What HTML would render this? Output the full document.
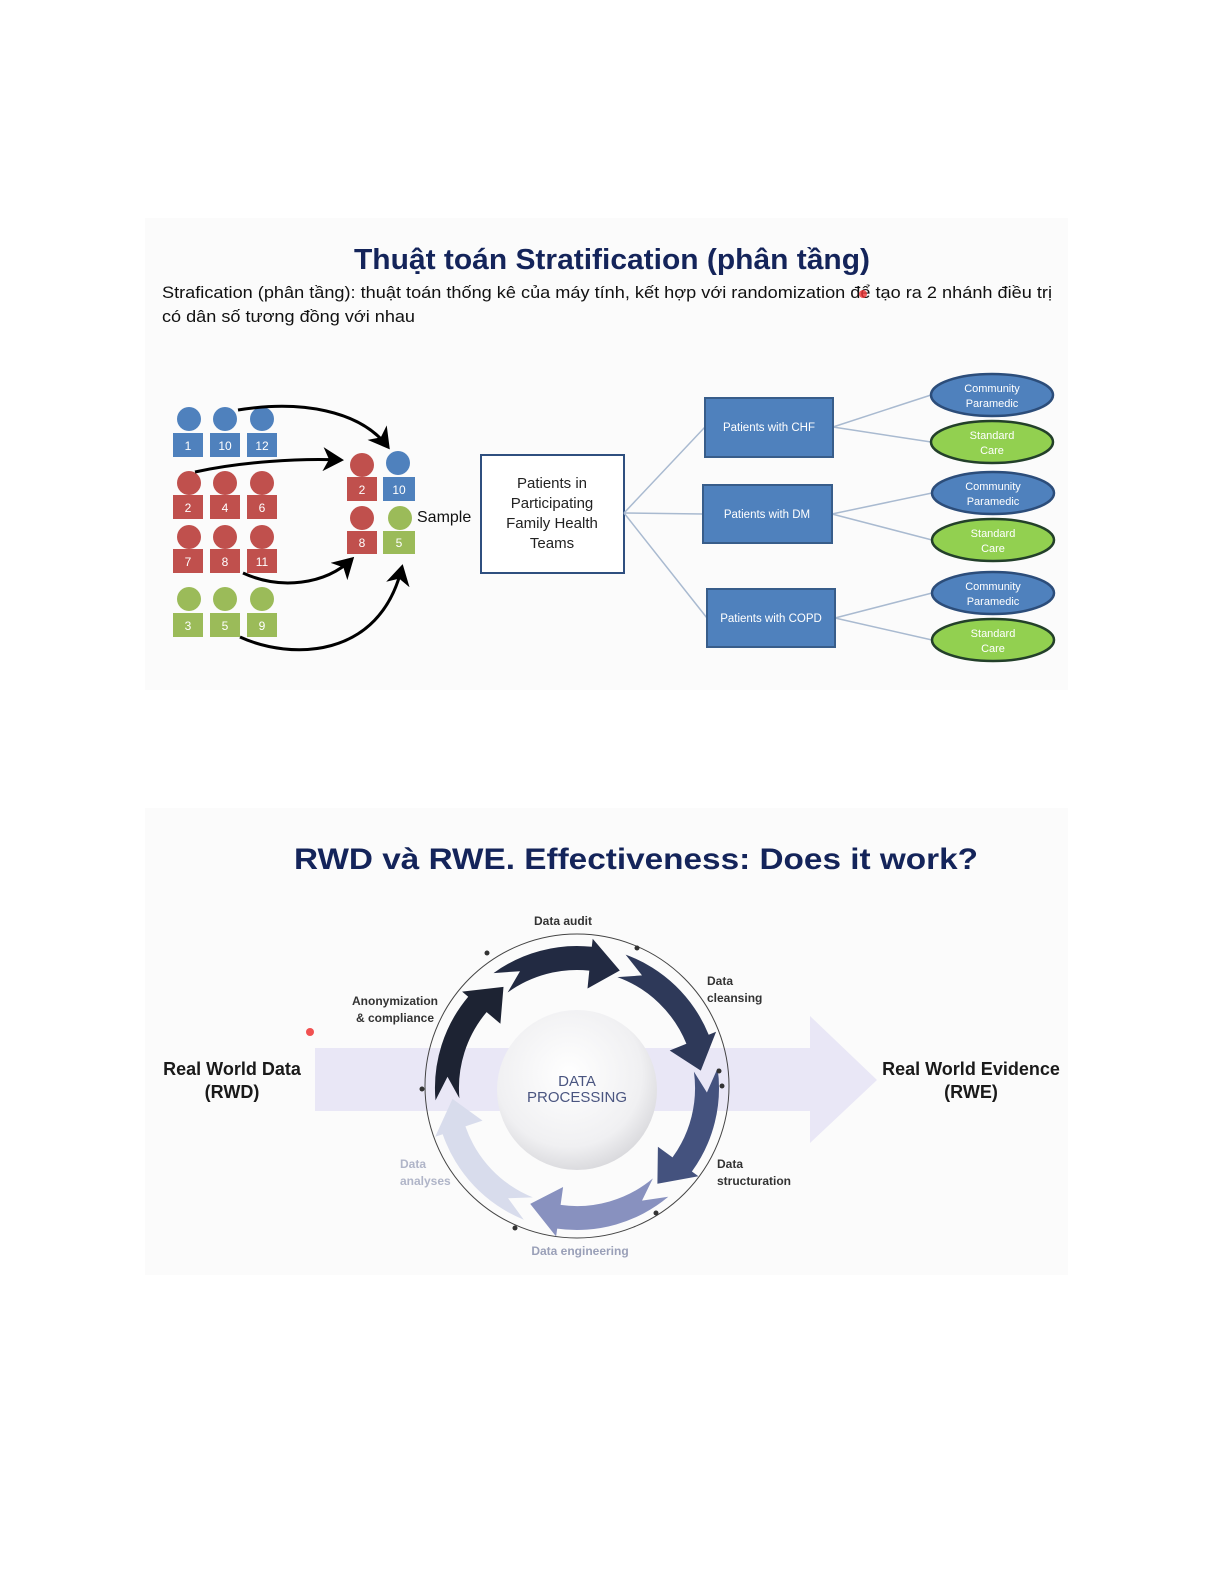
<!DOCTYPE html>
<html><head><meta charset="utf-8"><style>
html,body{margin:0;padding:0;background:#fff;}
svg{display:block;}
</style></head><body>
<svg width="1225" height="1585" viewBox="0 0 1225 1585" xmlns="http://www.w3.org/2000/svg">
<defs>
<marker id="ah" markerWidth="8" markerHeight="8" refX="6" refY="4" orient="auto" markerUnits="strokeWidth">
<path d="M0,0 L7,4 L0,8 L2,4 Z" fill="#000"/>
</marker>
<radialGradient id="dg" cx="0.45" cy="0.4" r="0.65">
<stop offset="0" stop-color="#ffffff"/><stop offset="0.7" stop-color="#f0f0f2"/><stop offset="1" stop-color="#d4d4d8"/>
</radialGradient>
</defs>
<rect x="0" y="0" width="1225" height="1585" fill="#fff"/>
<rect x="145" y="218" width="923" height="472" fill="#fbfbfb"/>
<rect x="145" y="808" width="923" height="467" fill="#fbfbfb"/>

<!-- Slide 1 -->
<text x="354" y="269" font-family="Liberation Sans, sans-serif" font-weight="bold" font-size="29" fill="#14245a" textLength="516" lengthAdjust="spacingAndGlyphs">Thuật toán Stratification (phân tầng)</text>
<text x="162" y="298" font-family="Liberation Sans, sans-serif" font-size="17" fill="#111" textLength="890" lengthAdjust="spacingAndGlyphs">Strafication (phân tầng): thuật toán thống kê của máy tính, kết hợp với randomization để tạo ra 2 nhánh điều trị</text>
<text x="162" y="322" font-family="Liberation Sans, sans-serif" font-size="17" fill="#111" textLength="253" lengthAdjust="spacingAndGlyphs">có dân số tương đồng với nhau</text>
<circle cx="863" cy="294" r="4" fill="#e33" opacity="0.8"/>

<g font-family="Liberation Sans, sans-serif" font-size="12" fill="#fff" text-anchor="middle">
<!-- blue row -->
<g fill="#4f81bd"><circle cx="189" cy="419" r="12"/><circle cx="225" cy="419" r="12"/><circle cx="262" cy="419" r="12"/>
<rect x="173" y="433" width="30" height="24"/><rect x="210" y="433" width="30" height="24"/><rect x="247" y="433" width="30" height="24"/></g>
<text x="188" y="450">1</text><text x="225" y="450">10</text><text x="262" y="450">12</text>
<!-- red rows -->
<g fill="#c0504d"><circle cx="189" cy="483" r="12"/><circle cx="225" cy="483" r="12"/><circle cx="262" cy="483" r="12"/>
<rect x="173" y="495" width="30" height="24"/><rect x="210" y="495" width="30" height="24"/><rect x="247" y="495" width="30" height="24"/>
<circle cx="189" cy="537" r="12"/><circle cx="225" cy="537" r="12"/><circle cx="262" cy="537" r="12"/>
<rect x="173" y="549" width="30" height="24"/><rect x="210" y="549" width="30" height="24"/><rect x="247" y="549" width="30" height="24"/></g>
<text x="188" y="512">2</text><text x="225" y="512">4</text><text x="262" y="512">6</text>
<text x="188" y="566">7</text><text x="225" y="566">8</text><text x="262" y="566">11</text>
<!-- green row -->
<g fill="#9bbb59"><circle cx="189" cy="599" r="12"/><circle cx="225" cy="599" r="12"/><circle cx="262" cy="599" r="12"/>
<rect x="173" y="613" width="30" height="24"/><rect x="210" y="613" width="30" height="24"/><rect x="247" y="613" width="30" height="24"/></g>
<text x="188" y="630">3</text><text x="225" y="630">5</text><text x="262" y="630">9</text>
<!-- sample -->
<circle cx="362" cy="465" r="12" fill="#c0504d"/><rect x="347" y="477" width="30" height="24" fill="#c0504d"/>
<circle cx="398" cy="463" r="12" fill="#4f81bd"/><rect x="383" y="477" width="32" height="24" fill="#4f81bd"/>
<circle cx="362" cy="518" r="12" fill="#c0504d"/><rect x="347" y="531" width="30" height="23" fill="#c0504d"/>
<circle cx="400" cy="518" r="12" fill="#9bbb59"/><rect x="383" y="531" width="32" height="23" fill="#9bbb59"/>
<text x="362" y="494">2</text><text x="399" y="494">10</text><text x="362" y="547">8</text><text x="399" y="547">5</text>
</g>
<!-- arrows -->
<g fill="none" stroke="#000" stroke-width="3">
<path d="M238,410 C300,400 360,410 388,447" marker-end="url(#ah)"/>
<path d="M195,472 C240,462 300,458 341,460" marker-end="url(#ah)"/>
<path d="M243,573 C280,590 325,585 352,559" marker-end="url(#ah)"/>
<path d="M240,637 C290,660 380,660 402,567" marker-end="url(#ah)"/>
</g>
<text x="417" y="522" font-family="Liberation Sans, sans-serif" font-size="16" fill="#111">Sample</text>
<rect x="481" y="455" width="143" height="118" fill="#fff" stroke="#2f4f7f" stroke-width="2"/>
<g font-family="Liberation Sans, sans-serif" font-size="15" fill="#222" text-anchor="middle">
<text x="552" y="488">Patients in</text><text x="552" y="508">Participating</text><text x="552" y="528">Family Health</text><text x="552" y="548">Teams</text>
</g>
<g stroke="#a9bad0" stroke-width="1.5" fill="none">
<line x1="624" y1="513" x2="705" y2="427"/><line x1="624" y1="513" x2="703" y2="514"/><line x1="624" y1="513" x2="707" y2="618"/>
<line x1="833" y1="427" x2="931" y2="395"/><line x1="833" y1="427" x2="931" y2="442"/>
<line x1="832" y1="514" x2="932" y2="493"/><line x1="832" y1="514" x2="932" y2="540"/>
<line x1="835" y1="618" x2="932" y2="593"/><line x1="835" y1="618" x2="932" y2="640"/>
</g>
<g fill="#4f81bd" stroke="#385d8a" stroke-width="2">
<rect x="705" y="398" width="128" height="59"/><rect x="703" y="485" width="129" height="58"/><rect x="707" y="589" width="128" height="58"/>
</g>
<g font-family="Liberation Sans, sans-serif" font-size="11.5" fill="#fff" text-anchor="middle">
<text x="769" y="431">Patients with CHF</text><text x="767" y="518">Patients with DM</text><text x="771" y="622">Patients with COPD</text>
</g>
<g stroke-width="2.5">
<ellipse cx="992" cy="395" rx="61" ry="21" fill="#4f81bd" stroke="#2c4d7a"/>
<ellipse cx="992" cy="442" rx="61" ry="21" fill="#92d050" stroke="#23402a"/>
<ellipse cx="993" cy="493" rx="61" ry="21" fill="#4f81bd" stroke="#2c4d7a"/>
<ellipse cx="993" cy="540" rx="61" ry="21" fill="#92d050" stroke="#23402a"/>
<ellipse cx="993" cy="593" rx="61" ry="21" fill="#4f81bd" stroke="#2c4d7a"/>
<ellipse cx="993" cy="640" rx="61" ry="21" fill="#92d050" stroke="#23402a"/>
</g>
<g font-family="Liberation Sans, sans-serif" font-size="11" fill="#fff" text-anchor="middle">
<text x="992" y="392">Community</text><text x="992" y="407">Paramedic</text>
<text x="992" y="439">Standard</text><text x="992" y="454">Care</text>
<text x="993" y="490">Community</text><text x="993" y="505">Paramedic</text>
<text x="993" y="537">Standard</text><text x="993" y="552">Care</text>
<text x="993" y="590">Community</text><text x="993" y="605">Paramedic</text>
<text x="993" y="637">Standard</text><text x="993" y="652">Care</text>
</g>

<!-- Slide 2 -->
<text x="294" y="869" font-family="Liberation Sans, sans-serif" font-weight="bold" font-size="30" fill="#14245a" textLength="684" lengthAdjust="spacingAndGlyphs">RWD và RWE. Effectiveness: Does it work?</text>
<path d="M315,1048 L810,1048 L810,1016 L877,1080 L810,1143 L810,1111 L315,1111 Z" fill="#e9e7f6"/>
<g font-family="Liberation Sans, sans-serif" font-weight="bold" font-size="18" fill="#1a1a1a" text-anchor="middle">
<text x="232" y="1075">Real World Data</text><text x="232" y="1098">(RWD)</text>
<text x="971" y="1075">Real World Evidence</text><text x="971" y="1098">(RWE)</text>
</g>
<circle cx="310" cy="1032" r="4" fill="#e33" opacity="0.85"/>

<circle cx="577" cy="1086" r="152" fill="none" stroke="#444" stroke-width="1"/>
<path d="M435.5,1100.4 A142,142 0 0 1 468.2,996.7 L462.1,991.6 L503.5,986.9 L500.4,1023.7 L486.6,1012.1 A118,118 0 0 0 459.4,1098.3 L447.5,1076.7 Z" fill="#1d2333"/>
<path d="M493.5,973.1 A142,142 0 0 1 591.8,946.8 L592.7,938.8 L619.8,970.5 L587.5,988.5 L589.3,970.6 A118,118 0 0 0 507.6,992.5 L520.0,971.2 Z" fill="#222a42"/>
<path d="M625.6,954.6 A142,142 0 0 1 708.7,1034.8 L716.1,1031.8 L700.8,1070.6 L669.7,1050.5 L686.4,1043.8 A118,118 0 0 0 617.4,977.1 L642.0,975.4 Z" fill="#2e3959"/>
<path d="M717.6,1068.2 A142,142 0 0 1 691.9,1171.5 L698.4,1176.2 L657.4,1183.8 L657.9,1146.8 L672.5,1157.4 A118,118 0 0 0 693.9,1071.6 L706.9,1092.5 Z" fill="#44527e"/>
<path d="M668.3,1196.8 A142,142 0 0 1 557.2,1228.6 L556.1,1236.5 L530.2,1203.9 L563.1,1187.0 L560.6,1204.9 A118,118 0 0 0 652.9,1178.4 L642.0,1200.6 Z" fill="#8891bf"/>
<path d="M523.8,1219.7 A142,142 0 0 1 442.7,1134.2 L435.2,1136.8 L452.5,1098.9 L482.5,1120.6 L465.4,1126.4 A118,118 0 0 0 532.8,1197.4 L508.1,1198.2 Z" fill="#d8dcec"/>
<circle cx="577" cy="1090" r="80" fill="url(#dg)"/>
<g fill="#333"><circle cx="487" cy="953" r="2.5"/><circle cx="637" cy="948" r="2.5"/><circle cx="719" cy="1071" r="2.5"/><circle cx="722" cy="1086" r="2.5"/><circle cx="656" cy="1213" r="2.5"/><circle cx="515" cy="1228" r="2.5"/><circle cx="422" cy="1089" r="2.5"/></g>
<g font-family="Liberation Sans, sans-serif" font-size="15" fill="#4a5580" text-anchor="middle">
<text x="577" y="1086">DATA</text><text x="577" y="1102">PROCESSING</text>
</g>
<g font-family="Liberation Sans, sans-serif" font-size="12" font-weight="bold" fill="#333">
<text x="563" y="925" text-anchor="middle">Data audit</text>
<text x="352" y="1005">Anonymization</text><text x="356" y="1022">&amp; compliance</text>
<text x="707" y="985">Data</text><text x="707" y="1002">cleansing</text>
<text x="717" y="1168">Data</text><text x="717" y="1185">structuration</text>
<text x="400" y="1168" fill="#b0b5c8">Data</text><text x="400" y="1185" fill="#b0b5c8">analyses</text>
<text x="580" y="1255" text-anchor="middle" fill="#9aa0b8">Data engineering</text>
</g>
</svg>
</body></html>
